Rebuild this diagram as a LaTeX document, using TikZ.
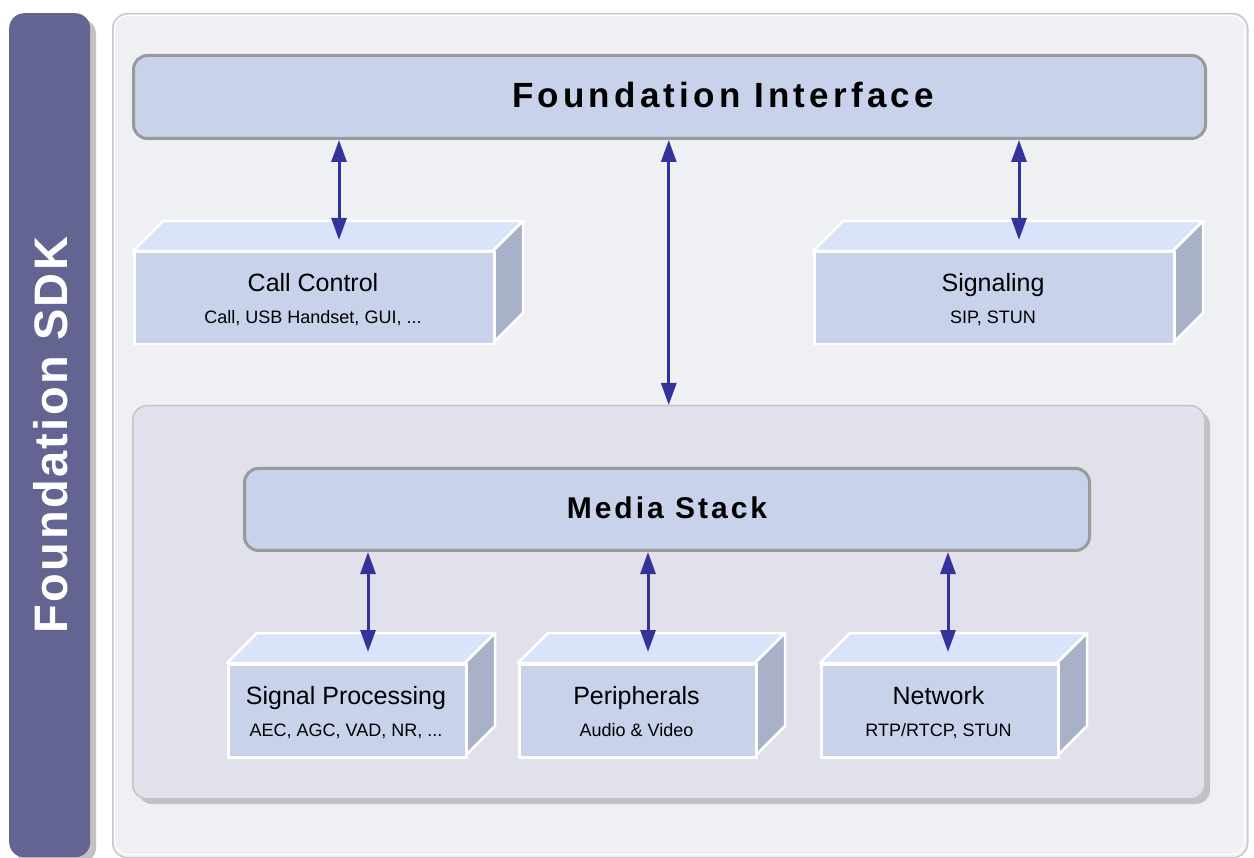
\documentclass[tikz,border=0pt]{standalone}
\usepackage{fontspec}
\setmainfont{Liberation Sans}
\newfontfamily\headfont{Liberation Sans Bold}[LetterSpace=12]
\newfontfamily\stackfont{Liberation Sans Bold}[LetterSpace=10]
\newfontfamily\sdkfont{Liberation Sans Bold}[LetterSpace=5]
\usetikzlibrary{arrows.meta,calc}

\definecolor{barfill}{HTML}{646493}
\definecolor{shadowgray}{HTML}{C2C2C4}
\definecolor{panelfill}{HTML}{EFF0F4}
\definecolor{panelline}{HTML}{C8C8CC}
\definecolor{bandfill}{HTML}{C8D2EA}
\definecolor{bandline}{HTML}{9A9A9A}
\definecolor{mediafill}{HTML}{E0E1EA}
\definecolor{medialine}{HTML}{C4C4C8}
\definecolor{topfill}{HTML}{D9E4FB}
\definecolor{sidefill}{HTML}{A9B1C8}
\definecolor{arrowblue}{HTML}{333399}

% a 3D block: name, left, top, right, bottom (front face), title, subtitle
\newcommand\blockbox[7]{%
  \filldraw[facetop] (#2,#3) -- (#2+30,#3-30) -- (#4+30,#3-30) -- (#4,#3) -- cycle;
  \filldraw[faceside] (#4,#3) -- (#4+30,#3-30) -- (#4+30,#5-30) -- (#4,#5) -- cycle;
  \node[facefront, anchor=north west, minimum width={#4-#2}, minimum height={#5-#3}] (#1) at (#2,#3) {};
  \node[titletext, anchor=base] (#1-t) at ({(#2+#4)/2},#3+41) {#6};
  \node[subtext, anchor=base] (#1-s) at ({(#2+#4)/2},#3+73) {#7};
}

\begin{document}
\begin{tikzpicture}[x=1pt, y=-1pt,
  bar/.style={fill=barfill, rounded corners=15pt, inner sep=0pt},
  panel/.style={fill=panelfill, draw=panelline, line width=1.5pt, rounded corners=15pt, inner sep=0pt},
  band/.style={fill=bandfill, draw=bandline, line width=3pt, rounded corners=14pt, inner sep=0pt},
  mediabox/.style={fill=mediafill, draw=medialine, line width=1.5pt, rounded corners=14pt, inner sep=0pt},
  facefront/.style={fill=bandfill, draw=white, line width=2.5pt, inner sep=0pt},
  facetop/.style={fill=topfill, draw=white, line width=2.5pt, line join=round},
  faceside/.style={fill=sidefill, draw=white, line width=2.5pt, line join=round},
  titletext/.style={font=\fontsize{25}{30}\selectfont, text=black, inner sep=0pt},
  subtext/.style={font=\fontsize{18}{22}\selectfont, text=black, inner sep=0pt},
  link/.style={draw=arrowblue, line width=3pt,
    {Triangle[width=15pt,length=22pt]}-{Triangle[width=15pt,length=22pt]}},
]
\useasboundingbox (0,0) rectangle (1254,858);
\fill[white] (0,0) rectangle (1254,858);

% vertical SDK bar
\fill[shadowgray, rounded corners=15pt] (15,19) rectangle (96,863);
\node[bar, minimum width=81, minimum height=844, anchor=north west] (sdk) at (9,13) {};
\node[font=\sdkfont\fontsize{47}{52}\selectfont, text=white, rotate=90, anchor=base, inner sep=0pt] (sdk-t) at (67,435) {Foundation SDK};

% main panel with a light inner edge
\node[panel, minimum width=1135, minimum height=844, anchor=north west] (panel) at (112,13) {};
\draw[white, line width=1pt, rounded corners=13pt] (114.5,15.5) rectangle (1244.5,854.5);

% Foundation Interface band
\node[band, minimum width=1072, minimum height=83, anchor=north west] (fi) at (132,54) {};
\node[font=\headfont\fontsize{35}{40}\selectfont, anchor=base, inner sep=0pt] (fi-t) at (723,108) {Foundation Interface};

% upper blocks
\blockbox{cc}{133}{251}{493}{343}{Call Control}{Call, USB Handset, GUI, ...}
\blockbox{sig}{813}{251}{1173}{343}{Signaling}{SIP, STUN}

% media region
\fill[shadowgray, rounded corners=14pt] (138,411) rectangle (1210,804);
\node[mediabox, minimum width=1072, minimum height=393, anchor=north west] (media) at (132,405) {};
\node[band, minimum width=845, minimum height=82, anchor=north west] (ms) at (243,467) {};
\node[font=\stackfont\fontsize{30}{34}\selectfont, anchor=base, inner sep=0pt] (ms-t) at (667,519) {Media Stack};

% lower blocks
\blockbox{sp}{227}{663}{465}{756}{Signal Processing}{AEC, AGC, VAD, NR, ...}
\blockbox{per}{518}{663}{755}{756}{Peripherals}{Audio \& Video}
\blockbox{net}{820}{663}{1057}{756}{Network}{RTP/RTCP, STUN}

% connectors
\coordinate (cc-in) at (339,240);
\coordinate (sig-in) at (1019,240);
\coordinate (sp-in) at (368,652);
\coordinate (per-in) at (648,652);
\coordinate (net-in) at (948,652);
\draw[link] (fi.south -| cc-in) -- (cc-in);
\draw[link] (fi.south -| sig-in) -- (sig-in);
\draw[link] (fi.south -| media.north) -- (media.north);
\draw[link] (ms.south -| sp-in) -- (sp-in);
\draw[link] (ms.south -| per-in) -- (per-in);
\draw[link] (ms.south -| net-in) -- (net-in);
\end{tikzpicture}
\end{document}
